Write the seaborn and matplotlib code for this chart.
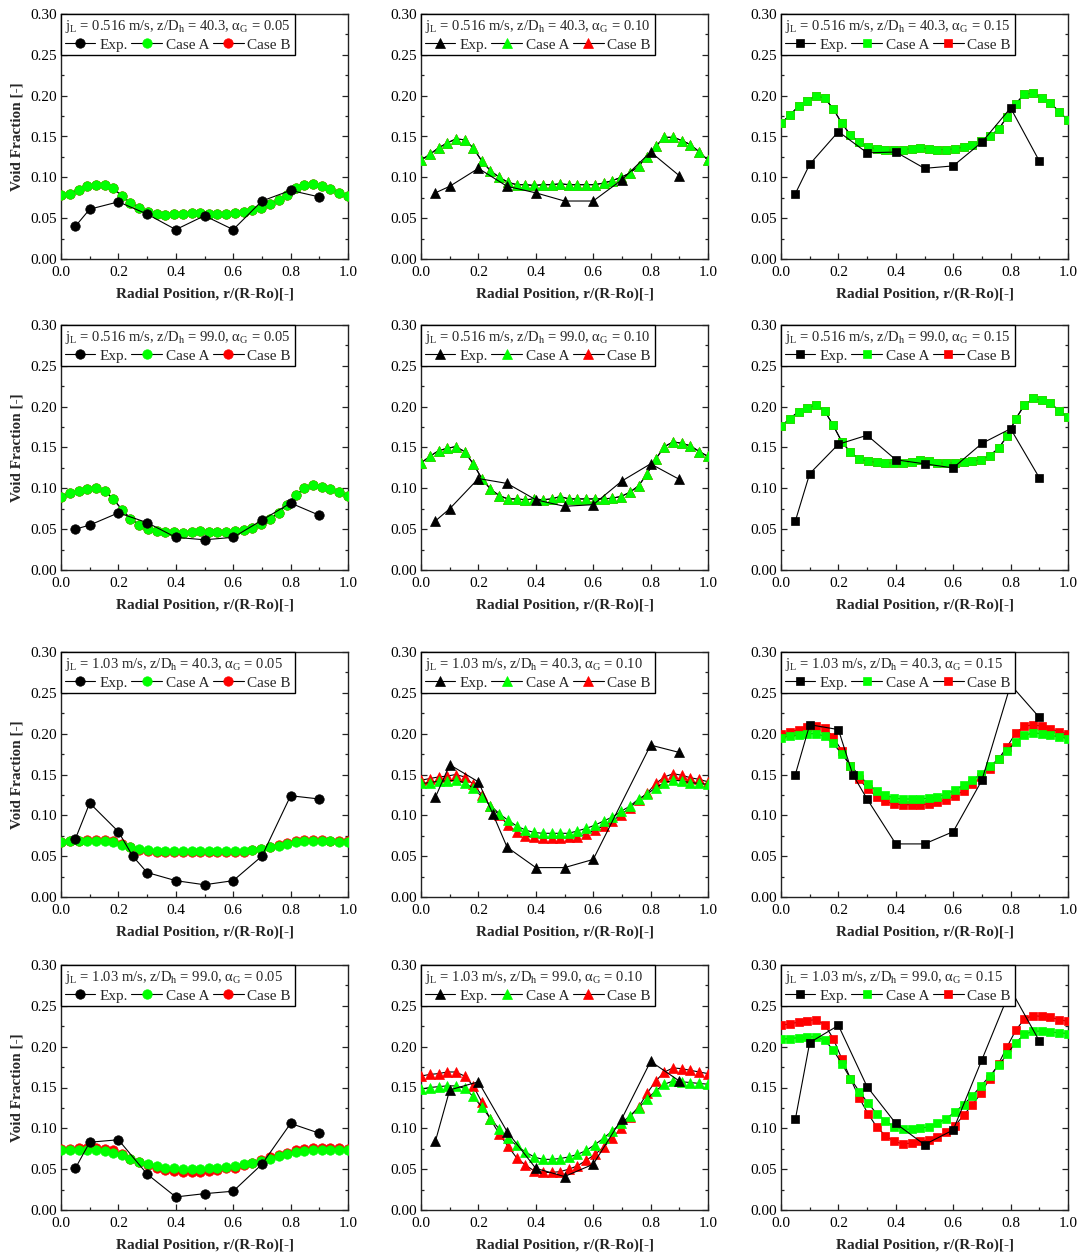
import numpy as np
import pandas as pd
import matplotlib
matplotlib.use("Agg")
import matplotlib.pyplot as plt
from matplotlib.ticker import MultipleLocator
import seaborn as sns

# ---------------- data ----------------
sim_r = [0.000, 0.030, 0.061, 0.091, 0.121, 0.152, 0.182, 0.212, 0.242, 0.273,
         0.303, 0.333, 0.364, 0.394, 0.424, 0.455, 0.485, 0.515, 0.545, 0.576,
         0.606, 0.636, 0.667, 0.697, 0.727, 0.758, 0.788, 0.818, 0.848, 0.879,
         0.909, 0.939, 0.970, 1.000]
exp_r_std = [0.05, 0.1, 0.2, 0.3, 0.4, 0.5, 0.6, 0.7, 0.8, 0.9]
exp_r_ext = [0.05, 0.1, 0.2, 0.25, 0.3, 0.4, 0.5, 0.6, 0.7, 0.8, 0.9]
exp_r_p8 = [0.05, 0.1, 0.2, 0.25, 0.3, 0.4, 0.5, 0.6, 0.8, 0.9]

# row 1 : jL = 0.516, z/Dh = 40.3
exp_1 = [0.040, 0.061, 0.070, 0.055, 0.036, 0.053, 0.036, 0.071, 0.084, 0.076]
a_1 = [0.078, 0.080, 0.085, 0.089, 0.091, 0.091, 0.087, 0.077, 0.069, 0.063, 0.058, 0.055,
       0.054, 0.055, 0.055, 0.056, 0.056, 0.055, 0.055, 0.055, 0.056, 0.057, 0.060, 0.063,
       0.067, 0.072, 0.078, 0.087, 0.091, 0.092, 0.089, 0.086, 0.081, 0.077]
b_1 = a_1
exp_2 = [0.081, 0.089, 0.111, 0.089, 0.081, 0.071, 0.071, 0.097, 0.131, 0.102]
a_2 = [0.121, 0.128, 0.136, 0.142, 0.147, 0.146, 0.136, 0.120, 0.108, 0.100, 0.094, 0.091,
       0.091, 0.090, 0.091, 0.091, 0.092, 0.091, 0.091, 0.091, 0.091, 0.093, 0.096, 0.100,
       0.105, 0.114, 0.125, 0.138, 0.149, 0.149, 0.145, 0.140, 0.131, 0.121]
b_2 = a_2
exp_3 = [0.080, 0.116, 0.156, 0.130, 0.131, 0.111, 0.114, 0.143, 0.185, 0.120]
a_3 = [0.166, 0.176, 0.187, 0.193, 0.200, 0.197, 0.184, 0.166, 0.152, 0.143, 0.137, 0.135,
       0.134, 0.133, 0.134, 0.135, 0.136, 0.135, 0.134, 0.134, 0.135, 0.137, 0.139, 0.144,
       0.150, 0.159, 0.174, 0.190, 0.202, 0.203, 0.197, 0.191, 0.180, 0.170]
b_3 = a_3

# row 2 : jL = 0.516, z/Dh = 99.0
exp_4 = [0.050, 0.055, 0.070, 0.058, 0.040, 0.037, 0.040, 0.061, 0.082, 0.067]
a_4 = [0.090, 0.094, 0.097, 0.099, 0.101, 0.097, 0.087, 0.074, 0.063, 0.055, 0.050, 0.048,
       0.046, 0.046, 0.045, 0.047, 0.048, 0.047, 0.046, 0.047, 0.048, 0.049, 0.052, 0.056,
       0.062, 0.070, 0.080, 0.092, 0.100, 0.104, 0.102, 0.099, 0.095, 0.091]
b_4 = a_4
exp_5 = [0.060, 0.075, 0.112, 0.106, 0.086, 0.078, 0.080, 0.109, 0.130, 0.111]
a_5 = [0.131, 0.139, 0.146, 0.149, 0.151, 0.145, 0.130, 0.112, 0.099, 0.091, 0.087, 0.087,
       0.086, 0.087, 0.086, 0.087, 0.090, 0.087, 0.087, 0.087, 0.087, 0.087, 0.088, 0.090,
       0.095, 0.103, 0.118, 0.136, 0.151, 0.157, 0.155, 0.152, 0.145, 0.139]
b_5 = a_5
exp_6 = [0.060, 0.118, 0.154, 0.165, 0.135, 0.130, 0.125, 0.155, 0.173, 0.113]
a_6 = [0.176, 0.185, 0.194, 0.198, 0.202, 0.195, 0.177, 0.157, 0.144, 0.136, 0.133, 0.132,
       0.131, 0.131, 0.131, 0.132, 0.135, 0.133, 0.131, 0.131, 0.131, 0.132, 0.133, 0.135,
       0.140, 0.149, 0.164, 0.185, 0.202, 0.210, 0.208, 0.204, 0.195, 0.187]
b_6 = a_6

# row 3 : jL = 1.03, z/Dh = 40.3
exp_7 = [0.071, 0.115, 0.080, 0.050, 0.030, 0.020, 0.015, 0.020, 0.050, 0.124, 0.120]
a_7 = [0.067, 0.068, 0.068, 0.069, 0.069, 0.068, 0.067, 0.064, 0.061, 0.059, 0.057, 0.056,
       0.056, 0.056, 0.056, 0.056, 0.056, 0.056, 0.056, 0.056, 0.056, 0.056, 0.058, 0.059,
       0.061, 0.063, 0.065, 0.067, 0.068, 0.069, 0.068, 0.068, 0.067, 0.067]
b_7 = [0.067, 0.068, 0.069, 0.070, 0.070, 0.070, 0.068, 0.065, 0.061, 0.058, 0.056, 0.055,
       0.055, 0.055, 0.055, 0.055, 0.055, 0.055, 0.055, 0.055, 0.055, 0.055, 0.057, 0.059,
       0.061, 0.064, 0.066, 0.068, 0.070, 0.070, 0.070, 0.069, 0.068, 0.068]
exp_8 = [0.122, 0.162, 0.141, 0.102, 0.061, 0.036, 0.036, 0.046, 0.186, 0.177]
a_8 = [0.139, 0.140, 0.142, 0.142, 0.143, 0.140, 0.133, 0.123, 0.112, 0.102, 0.094, 0.087,
       0.082, 0.079, 0.078, 0.078, 0.078, 0.078, 0.081, 0.084, 0.088, 0.093, 0.098, 0.105,
       0.111, 0.120, 0.126, 0.134, 0.140, 0.143, 0.142, 0.140, 0.139, 0.138]
b_8 = [0.143, 0.145, 0.147, 0.148, 0.150, 0.147, 0.138, 0.125, 0.111, 0.100, 0.088, 0.080,
       0.075, 0.073, 0.072, 0.072, 0.072, 0.073, 0.074, 0.077, 0.082, 0.087, 0.093, 0.101,
       0.109, 0.119, 0.127, 0.139, 0.147, 0.151, 0.149, 0.146, 0.144, 0.141]
exp_9 = [0.150, 0.211, 0.205, 0.150, 0.120, 0.065, 0.065, 0.080, 0.143, 0.260, 0.220]
a_9 = [0.195, 0.197, 0.198, 0.200, 0.200, 0.197, 0.188, 0.175, 0.161, 0.149, 0.138, 0.130,
       0.125, 0.121, 0.120, 0.120, 0.120, 0.121, 0.123, 0.126, 0.131, 0.137, 0.143, 0.151,
       0.160, 0.169, 0.179, 0.190, 0.198, 0.201, 0.200, 0.198, 0.196, 0.194]
b_9 = [0.199, 0.202, 0.205, 0.208, 0.210, 0.207, 0.196, 0.179, 0.160, 0.144, 0.132, 0.123,
       0.117, 0.114, 0.113, 0.113, 0.113, 0.114, 0.116, 0.119, 0.124, 0.130, 0.138, 0.147,
       0.157, 0.169, 0.184, 0.201, 0.209, 0.211, 0.209, 0.206, 0.202, 0.200]

# row 4 : jL = 1.03, z/Dh = 99.0
exp_10 = [0.051, 0.083, 0.086, 0.044, 0.016, 0.020, 0.023, 0.056, 0.106, 0.094]
a_10 = [0.073, 0.073, 0.073, 0.073, 0.073, 0.072, 0.070, 0.067, 0.063, 0.059, 0.056, 0.054,
        0.052, 0.051, 0.050, 0.050, 0.050, 0.051, 0.051, 0.053, 0.054, 0.056, 0.058, 0.060,
        0.063, 0.066, 0.069, 0.071, 0.072, 0.073, 0.073, 0.073, 0.073, 0.073]
b_10 = [0.075, 0.075, 0.076, 0.076, 0.076, 0.075, 0.073, 0.068, 0.063, 0.059, 0.055, 0.051,
        0.049, 0.048, 0.047, 0.047, 0.047, 0.048, 0.049, 0.051, 0.052, 0.055, 0.058, 0.061,
        0.065, 0.067, 0.070, 0.073, 0.075, 0.076, 0.076, 0.076, 0.076, 0.075]
exp_11 = [0.084, 0.147, 0.157, 0.096, 0.051, 0.041, 0.056, 0.112, 0.182, 0.158]
a_11 = [0.148, 0.150, 0.151, 0.152, 0.152, 0.149, 0.139, 0.126, 0.112, 0.099, 0.088, 0.079,
        0.071, 0.065, 0.062, 0.062, 0.063, 0.065, 0.068, 0.073, 0.080, 0.088, 0.097, 0.106,
        0.115, 0.125, 0.136, 0.146, 0.154, 0.158, 0.157, 0.156, 0.155, 0.154]
b_11 = [0.164, 0.166, 0.167, 0.169, 0.169, 0.164, 0.152, 0.132, 0.111, 0.093, 0.078, 0.064,
        0.055, 0.048, 0.046, 0.046, 0.047, 0.050, 0.054, 0.061, 0.068, 0.077, 0.088, 0.100,
        0.114, 0.126, 0.143, 0.158, 0.169, 0.174, 0.173, 0.171, 0.169, 0.167]
exp_12 = [0.111, 0.205, 0.226, 0.151, 0.106, 0.080, 0.098, 0.184, 0.270, 0.207]
a_12 = [0.209, 0.210, 0.211, 0.212, 0.212, 0.208, 0.196, 0.179, 0.161, 0.145, 0.131, 0.118,
        0.109, 0.102, 0.099, 0.099, 0.100, 0.102, 0.106, 0.112, 0.120, 0.129, 0.140, 0.152,
        0.164, 0.177, 0.191, 0.205, 0.215, 0.219, 0.219, 0.218, 0.217, 0.216]
b_12 = [0.226, 0.228, 0.230, 0.232, 0.233, 0.227, 0.210, 0.185, 0.161, 0.137, 0.118, 0.102,
        0.091, 0.084, 0.081, 0.082, 0.084, 0.086, 0.089, 0.095, 0.103, 0.116, 0.129, 0.143,
        0.161, 0.179, 0.200, 0.220, 0.234, 0.238, 0.237, 0.236, 0.233, 0.231]

row_jl = ["0.516", "0.516", "1.03", "1.03"]
row_zdh = ["40.3", "99.0", "40.3", "99.0"]
col_alpha = ["0.05", "0.10", "0.15"]
col_marker = ["o", "^", "s"]
series_labels = ["Exp.", "Case A", "Case B"]
xlabel_text = "Radial Position, r/(R-Ro)[-]"
ylabel_text = "Void Fraction [-]"

panels = [
    [(exp_r_std, exp_1, a_1, b_1), (exp_r_std, exp_2, a_2, b_2), (exp_r_std, exp_3, a_3, b_3)],
    [(exp_r_std, exp_4, a_4, b_4), (exp_r_std, exp_5, a_5, b_5), (exp_r_std, exp_6, a_6, b_6)],
    [(exp_r_ext, exp_7, a_7, b_7), (exp_r_p8, exp_8, a_8, b_8), (exp_r_ext, exp_9, a_9, b_9)],
    [(exp_r_std, exp_10, a_10, b_10), (exp_r_std, exp_11, a_11, b_11), (exp_r_std, exp_12, a_12, b_12)],
]

# ---------------- style ----------------
sns.set_theme(style="ticks")
plt.rcParams["font.family"] = ["Liberation Serif", "DejaVu Serif"]
plt.rcParams["mathtext.fontset"] = "custom"
plt.rcParams["mathtext.rm"] = "Liberation Serif"
plt.rcParams["mathtext.it"] = "Liberation Serif:italic"
plt.rcParams["mathtext.bf"] = "Liberation Serif:bold"
plt.rcParams["axes.edgecolor"] = "#222222"
plt.rcParams["axes.linewidth"] = 1.0

GREEN = "#00ff00"
RED = "#ff0000"

W, H = 1082, 1257
fig = plt.figure(figsize=(W / 100, H / 100), dpi=100)

col_left = [61, 421, 781]
row_top = [14, 325, 652, 965]
ax_w, ax_h = 287, 245

msize = {"o": 6.8, "^": 7.0, "s": 5.6}

for r in range(4):
    for c in range(3):
        left = col_left[c] / W
        bottom = 1 - (row_top[r] + ax_h) / H
        ax = fig.add_axes([left, bottom, ax_w / W, ax_h / H])
        exp_r, exp_v, a_v, b_v = panels[r][c]
        m = col_marker[c]
        ms = msize[m]
        df_exp = pd.DataFrame({"r": exp_r, "v": exp_v})
        df_a = pd.DataFrame({"r": sim_r, "v": a_v})
        df_b = pd.DataFrame({"r": sim_r, "v": b_v})
        sns.lineplot(data=df_b, x="r", y="v", ax=ax, color="black", lw=0.8,
                     marker=m, markersize=ms, markerfacecolor=RED, markeredgecolor=RED,
                     markeredgewidth=0.5, estimator=None, errorbar=None, sort=False,
                     legend=False, zorder=3)
        sns.lineplot(data=df_a, x="r", y="v", ax=ax, color="black", lw=0.8,
                     marker=m, markersize=ms, markerfacecolor=GREEN, markeredgecolor=GREEN,
                     markeredgewidth=0.5, estimator=None, errorbar=None, sort=False,
                     legend=False, zorder=4)
        sns.lineplot(data=df_exp, x="r", y="v", ax=ax, color="black", lw=0.8,
                     marker=m, markersize=ms, markerfacecolor="black", markeredgecolor="black",
                     markeredgewidth=0.5, estimator=None, errorbar=None, sort=False,
                     legend=False, zorder=5)
        lines = ax.get_lines()
        handles = [lines[2], lines[1], lines[0]]

        ax.set_xlim(0, 1.0)
        ax.set_ylim(0, 0.30)
        ax.xaxis.set_major_locator(MultipleLocator(0.2))
        ax.xaxis.set_minor_locator(MultipleLocator(0.1))
        ax.yaxis.set_major_locator(MultipleLocator(0.05))
        ax.yaxis.set_minor_locator(MultipleLocator(0.025))
        ax.xaxis.set_major_formatter(matplotlib.ticker.FormatStrFormatter("%.1f"))
        ax.yaxis.set_major_formatter(matplotlib.ticker.FormatStrFormatter("%.2f"))
        ax.tick_params(which="both", direction="in", right=True, top=False,
                       colors="#222222", labelcolor="black", labelsize=11, width=0.9)
        ax.tick_params(which="major", length=4)
        ax.tick_params(which="minor", length=2.5)
        ax.tick_params(axis="x", which="major", pad=5)
        ax.tick_params(axis="y", which="major", pad=3)
        ax.set_xlabel(xlabel_text, fontsize=11, fontweight="bold", labelpad=6)
        if c == 0:
            ax.set_ylabel(ylabel_text, fontsize=11, fontweight="bold", labelpad=5)
        else:
            ax.set_ylabel("")

        title = (r"j$_\mathrm{L}$ = " + row_jl[r] + r" m/s, z/D$_\mathrm{h}$ = " + row_zdh[r]
                 + r", α$_\mathrm{G}$ = " + col_alpha[c])
        leg = ax.legend(handles, series_labels, title=title, loc="upper left",
                        bbox_to_anchor=(0, 1), borderaxespad=0, ncol=3, fontsize=11,
                        title_fontsize=10.5, frameon=True, fancybox=False, framealpha=1,
                        edgecolor="black", handlelength=2.0, handletextpad=0.25,
                        columnspacing=0.25, borderpad=0.25, labelspacing=0.2,
                        alignment="left")
        leg.get_frame().set_linewidth(1.0)
        leg.set_zorder(10)

fig.savefig("out.png", dpi=100, facecolor="white")
